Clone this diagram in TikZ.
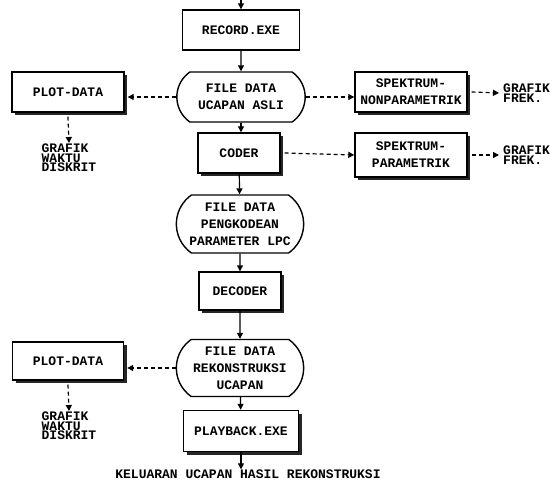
\documentclass[tikz,border=0pt]{standalone}
\usepackage{fontspec}
\setmonofont{Liberation Mono}
\usetikzlibrary{shapes.misc,shadows,arrows.meta}

\tikzset{
	prog/.style={draw, line width=1.4pt, rectangle, minimum width=117pt, minimum height=40pt, align=center},
	shadowed/.style={drop shadow={shadow xshift=3pt, shadow yshift=-3pt, fill=black!85, opacity=1}, fill=white},
	datafile/.style={draw, line width=1.4pt, rounded rectangle, rounded rectangle arc length=110, minimum width=135pt, align=center},
	plain/.style={align=left, inner sep=0pt, font=\ttfamily\bfseries\fontsize{13}{9.5}\selectfont},
	flow/.style={line width=1.2pt, -{Triangle[length=6pt,width=6pt]}},
	aside/.style={flow, dash pattern=on 4pt off 3pt}
}

\begin{document}
\begin{tikzpicture}[x=1pt, y=-1pt, every node/.style={font=\ttfamily\bfseries\fontsize{13}{17}\selectfont}]
	\useasboundingbox (0,0) rectangle (550,485);
	% main column
	\coordinate (in) at (241,0);
	\node[prog] (rec) at (241,30) {RECORD.EXE};
	\node[datafile, minimum height=50pt] (asli) at (241,97) {FILE DATA\\UCAPAN ASLI};
	\node[prog, shadowed, minimum width=82pt] (coder) at (239,153) {CODER};
	\node[datafile, minimum height=58pt, minimum width=134pt] (lpc) at (240,224) {FILE DATA\\PENGKODEAN\\PARAMETER LPC};
	\node[prog, shadowed, minimum width=82pt, minimum height=38pt] (decoder) at (240,291) {DECODER};
	\node[datafile, minimum height=57pt, minimum width=134pt] (rekon) at (240,368) {FILE DATA\\REKONSTRUKSI\\UCAPAN};
	\node[prog, shadowed, minimum height=41pt, minimum width=115pt] (play) at (241,431) {PLAYBACK.EXE};
	\node[inner sep=0pt] (out) at (248,474) {KELUARAN UCAPAN HASIL REKONSTRUKSI};
	% side branches
	\node[prog, shadowed, minimum width=112pt] (plot1) at (68,92) {PLOT-DATA};
	\node[plain, anchor=north] (graf1) at (69,144) {GRAFIK\\WAKTU\\DISKRIT};
	\node[prog, shadowed, minimum width=112pt] (spekn) at (411,92) {SPEKTRUM-\\NONPARAMETRIK};
	\node[plain, anchor=west] (frek1) at (503,93) {GRAFIK\\FREK.};
	\node[prog, shadowed, minimum width=112pt, minimum height=44pt] (spekp) at (411,155) {SPEKTRUM-\\PARAMETRIK};
	\node[plain, anchor=west] (frek2) at (503,155) {GRAFIK\\FREK.};
	\node[prog, shadowed, minimum width=111pt, minimum height=38pt] (plot2) at (68,361) {PLOT-DATA};
	\node[plain, anchor=north] (graf2) at (69,412) {GRAFIK\\WAKTU\\DISKRIT};

	\draw[flow] (in) -- (rec);
	\draw[flow] (rec) -- (asli);
	\draw[flow] (asli.south) -- (asli.south |- coder.north);
	\draw[flow] (coder) -- (lpc);
	\draw[flow] (lpc) -- (decoder);
	\draw[flow] (decoder) -- (rekon);
	\draw[flow] (rekon) -- (play);
	\draw[flow] (play.south) -- (play.south |- out.north);

	\draw[aside] (asli.west) -- ([xshift=3pt]asli.west -| plot1.east);
	\draw[aside] ([yshift=-4pt]plot1.south) -- ([yshift=1pt]graf1.north);
	\draw[aside] (asli.east) -- (asli.east -| spekn.west);
	\draw[aside] ([xshift=4pt]spekn.east) -- ([xshift=-4pt]frek1.west);
	\draw[aside] ([xshift=4pt]coder.east) -- (spekp.west);
	\draw[aside] ([xshift=4pt]spekp.east) -- ([xshift=-4pt]frek2.west);
	\draw[aside] (rekon.west) -- ([xshift=3pt]rekon.west -| plot2.east);
	\draw[aside] ([yshift=-4pt]plot2.south) -- ([yshift=1pt]graf2.north);
\end{tikzpicture}
\end{document}
